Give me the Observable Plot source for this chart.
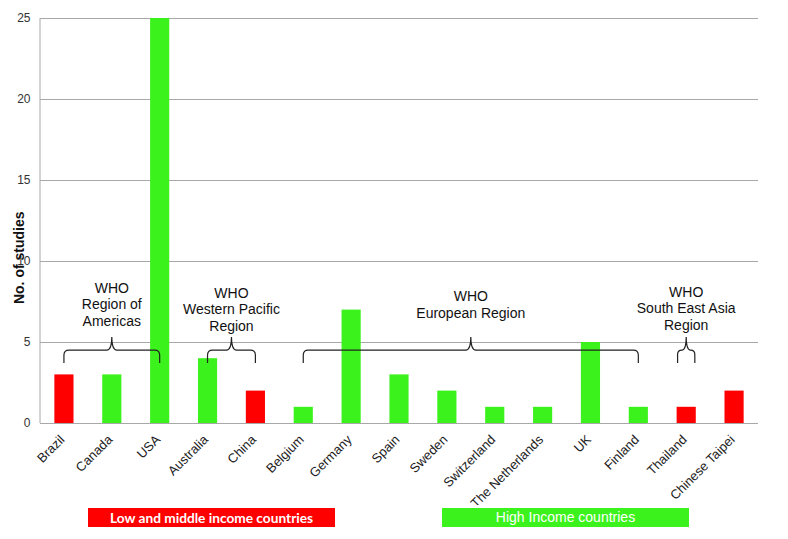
<!DOCTYPE html>
<html>
<head>
<meta charset="utf-8">
<script src="https://cdn.jsdelivr.net/npm/d3@7"></script>
<script src="https://cdn.jsdelivr.net/npm/@observablehq/plot@0.6"></script>
<style>
  html, body { margin: 0; padding: 0; background: #fff; }
  #wrap { position: relative; width: 788px; height: 539px; overflow: hidden; font-family: "Liberation Sans", Arial, sans-serif; }
  .legend { position: absolute; top: 508px; width: 247px; height: 19px; line-height: 19px; color: #fff; text-align: center; }
  #lmic { left: 88px; background: #ff0000; font-family: Lato, "Open Sans", sans-serif; font-weight: 700; font-size: 13.7px; }
  #hic { left: 442px; background: #3cf21c; font-family: "Liberation Sans", Arial, sans-serif; font-size: 14px; }
</style>
</head>
<body>
<div id="wrap"></div>
<script>
// ---- data ----
const countries = ["Brazil", "Canada", "USA", "Australia", "China", "Belgium", "Germany", "Spain", "Sweden", "Switzerland", "The Netherlands", "UK", "Finland", "Thailand", "Chinese Taipei"];
const studies = [3, 3, 25, 4, 2, 1, 7, 3, 2, 1, 1, 5, 1, 1, 2];
const incomeGroup = ["LMIC", "HIC", "HIC", "HIC", "LMIC", "HIC", "HIC", "HIC", "HIC", "HIC", "HIC", "HIC", "HIC", "LMIC", "LMIC"];
const yTicks = [0, 5, 10, 15, 20, 25];
const yTitle = "No. of studies";
const regionLabels = [["WHO", "Region of", "Americas"], ["WHO", "Western Pacific", "Region"], ["WHO", "European Region"], ["WHO", "South East Asia", "Region"]];
const regionFirst = ["Brazil", "Australia", "Belgium", "Thailand"];
const regionLast = ["USA", "China", "Finland", "Thailand"];
const regionLabelBase = [6.0, 5.7, 6.5, 5.75]; // baseline of last label line, in "No. of studies" units
const braceLevel = 4.5;
const legendLabels = ["Low and middle income countries", "High Income countries"];

const table = countries.map((c, i) => ({country: c, studies: studies[i], income: incomeGroup[i]}));

const RED = "#ff0000", GREEN = "#3cf21c";

function annotations(index, scales, values, dimensions) {
  const sx = scales.x, sy = scales.y;
  const bw = typeof sx.bandwidth === "function" ? sx.bandwidth() : ((scales.scales && scales.scales.x && scales.scales.x.bandwidth) || 0);
  const cx = c => sx(c) + bw / 2;
  const g = d3.create("svg:g");
  // left axis line
  g.append("line")
    .attr("x1", dimensions.marginLeft).attr("x2", dimensions.marginLeft)
    .attr("y1", sy(yTicks[0])).attr("y2", sy(yTicks[yTicks.length - 1]))
    .attr("stroke", "#a8a8a8");
  // y title
  g.append("text")
    .attr("transform", `translate(${dimensions.marginLeft - 16},${sy(10.2)}) rotate(-90)`)
    .attr("text-anchor", "middle")
    .attr("font-weight", "bold").attr("font-size", 14).attr("fill", "#111")
    .text(yTitle);
  // braces + labels
  regionLabels.forEach((lines, i) => {
    let x1, x2;
    if (regionFirst[i] === regionLast[i]) {
      x1 = cx(regionFirst[i]) - bw * 0.45; x2 = cx(regionLast[i]) + bw * 0.45;
    } else {
      x1 = cx(regionFirst[i]); x2 = cx(regionLast[i]);
    }
    const xm = (x1 + x2) / 2, y0 = sy(braceLevel), leg = 13, tip = 13;
    const r = Math.min(5, (x2 - x1) / 4);
    const p = d3.path();
    p.moveTo(x1, y0 + leg);
    p.lineTo(x1, y0 + r);
    p.quadraticCurveTo(x1, y0, x1 + r, y0);
    p.lineTo(xm - r, y0);
    p.quadraticCurveTo(xm, y0, xm, y0 - tip);
    p.quadraticCurveTo(xm, y0, xm + r, y0);
    p.lineTo(x2 - r, y0);
    p.quadraticCurveTo(x2, y0, x2, y0 + r);
    p.lineTo(x2, y0 + leg);
    g.append("path").attr("d", p.toString()).attr("fill", "none").attr("stroke", "#222").attr("stroke-width", 1.2);
    const base = sy(regionLabelBase[i]);
    const lh = 16.5;
    lines.forEach((t, j) => {
      g.append("text")
        .attr("x", xm).attr("y", base - (lines.length - 1 - j) * lh)
        .attr("text-anchor", "middle").attr("font-size", 14).attr("fill", "#111")
        .text(t);
    });
  });
  return g.node();
}

const chart = Plot.plot({
  width: 788,
  height: 505,
  marginTop: 18,
  marginBottom: 82,
  marginLeft: 40,
  marginRight: 30,
  style: {fontFamily: "Liberation Sans, Arial, sans-serif", fontSize: "13px", color: "#222", background: "#fff"},
  x: {domain: countries, paddingInner: 0.6, paddingOuter: 0.3, round: false, label: null},
  y: {domain: [0, 25], label: null},
  color: {domain: ["LMIC", "HIC"], range: [RED, GREEN]},
  marks: [
    Plot.gridY({ticks: yTicks, stroke: "#a8a8a8", strokeOpacity: 1}),
    Plot.barY(table, {x: "country", y: "studies", fill: "income"}),
    Plot.axisY({ticks: yTicks, tickSize: 0, tickPadding: 10, fontSize: 12, label: null, fill: "#333"}),
    Plot.axisX({tickRotate: -45, tickSize: 0, tickPadding: 14, dx: -2, fontSize: 13, label: null, fill: "#222"}),
    annotations
  ]
});

const wrap = document.getElementById("wrap");
wrap.appendChild(chart);
const l1 = document.createElement("div"); l1.className = "legend"; l1.id = "lmic"; l1.textContent = legendLabels[0];
const l2 = document.createElement("div"); l2.className = "legend"; l2.id = "hic"; l2.textContent = legendLabels[1];
wrap.appendChild(l1); wrap.appendChild(l2);
</script>
</body>
</html>
